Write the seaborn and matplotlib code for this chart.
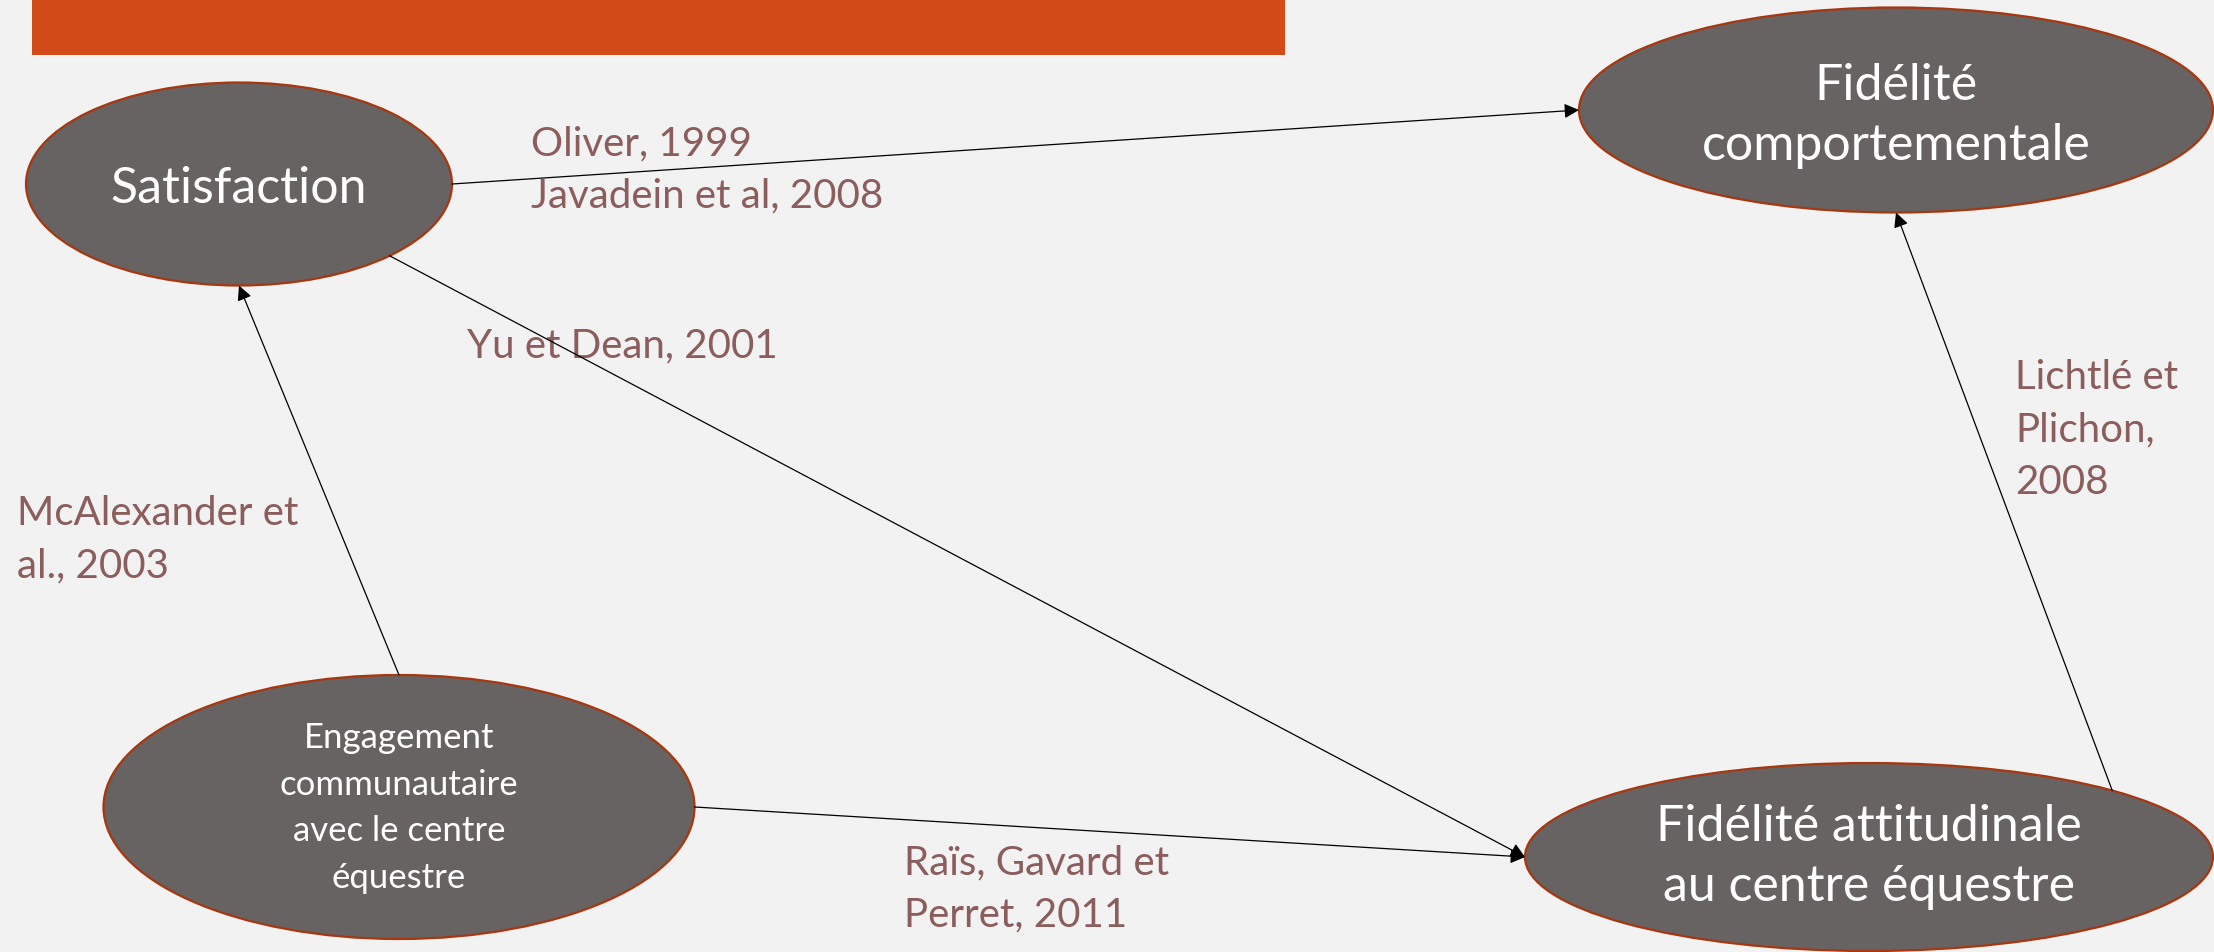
import numpy as np
import matplotlib.pyplot as plt
import seaborn as sns
from matplotlib.patches import Ellipse, Rectangle

# Noeuds du modèle
nodes = ["Satisfaction",
         "Fidélité\ncomportementale",
         "Engagement\ncommunautaire\navec le centre\néquestre",
         "Fidélité attitudinale\nau centre équestre"]

# Liens (source -> cible) et références
edge_src = [0, 2, 0, 2, 3]
edge_dst = [1, 0, 3, 3, 1]
edge_refs = ["Oliver, 1999\nJavadein et al, 2008",
             "McAlexander et\nal., 2003",
             "Yu et Dean, 2001",
             "Raïs, Gavard et\nPerret, 2011",
             "Lichtlé et\nPlichon,\n2008"]

# Mise en page (pixels)
centers = [(239, 184), (1896, 110), (399, 807), (1869, 857)]
sizes = [(426, 203), (634, 205), (591, 264), (688, 188)]
node_fs = [36, 36, 25, 36]
node_ls = [1.2, 1.36, 1.56, 1.38]
node_text_y = [189, 116, 808, 857]
# angles d'accroche sur les ellipses (départ, arrivée)
attach = [(0, 180), (-90, 90), (45, 180), (0, 180), (-45, 90)]
ref_pos = [(531, 170), (17, 540), (467, 346), (904, 889), (2015, 430)]

sns.set_theme(style="white")
plt.rcParams['font.family'] = ['Lato', 'DejaVu Sans']

bg = '#F2F2F2'
fill = '#666362'
edge_col = '#A8360F'
ref_col = '#8B5D5D'

fig = plt.figure(figsize=(22.14, 9.52), dpi=100, facecolor=bg)
ax = fig.add_axes([0, 0, 1, 1])
ax.set_facecolor(bg)
ax.set_xlim(0, 2214)
ax.set_ylim(952, 0)
ax.axis('off')

# bandeau orange
ax.add_patch(Rectangle((32, 0), 1253, 55, color='#D24A18', lw=0))


def point_on(i, deg):
    cx, cy = centers[i]
    w, h = sizes[i]
    t = np.deg2rad(deg)
    return cx + w / 2 * np.cos(t), cy + h / 2 * np.sin(t)


for (cx, cy), (w, h) in zip(centers, sizes):
    ax.add_patch(Ellipse((cx, cy), w, h, facecolor=fill, edgecolor=edge_col, lw=1.6, zorder=2))

for i, name in enumerate(nodes):
    ax.text(centers[i][0], node_text_y[i], name, color='white', fontsize=node_fs[i],
            ha='center', va='center', linespacing=node_ls[i], zorder=3)

for s, d, (a0, a1) in zip(edge_src, edge_dst, attach):
    p0 = point_on(s, a0)
    p1 = point_on(d, a1)
    ax.annotate("", xy=p1, xytext=p0,
                arrowprops=dict(arrowstyle='-|>', color='black', lw=0.9,
                                mutation_scale=22, shrinkA=0, shrinkB=0), zorder=4)

for ref, (x, y) in zip(edge_refs, ref_pos):
    ax.text(x, y, ref, color=ref_col, fontsize=29, ha='left', va='center', linespacing=1.52)

plt.savefig('out.png', dpi=100, facecolor=bg)
